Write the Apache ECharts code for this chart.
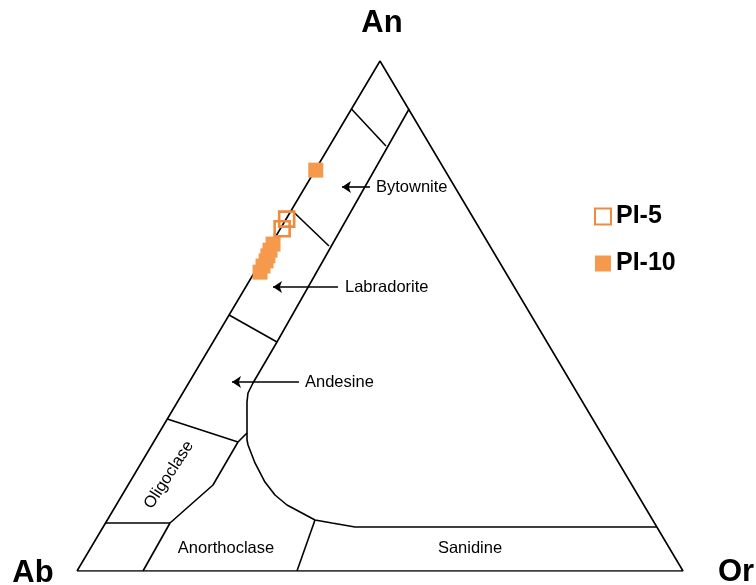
<!DOCTYPE html>
<html>
<head>
<meta charset="utf-8">
<script src="https://cdn.jsdelivr.net/npm/echarts@6/dist/echarts.min.js"></script>
<style>
html, body { margin: 0; padding: 0; background: #fff; }
#chart { width: 756px; height: 585px; }
</style>
</head>
<body>
<div id="chart"></div>
<script>
// all ternary points are [An, Or] in percent, Ab = 100 - An - Or
const cornerNames = ["An", "Ab", "Or"];
const fieldNames = ["Bytownite", "Labradorite", "Andesine", "Oligoclase", "Anorthoclase", "Sanidine"];
const seriesNames = ["PI-5", "PI-10"];

const outline = [[0, 0], [0, 100], [100, 0], [0, 0]];
// boundary of the plagioclase field, running down and round into the sanidine line
const plagioclaseEdge = [
    [90.59, 9.50], [44.90, 10.55], [36.86, 10.61], [34.90, 10.77], [33.14, 11.48],
    [25.69, 15.21], [24.71, 15.87], [21.18, 18.78], [17.45, 22.29], [14.90, 25.22],
    [12.94, 28.18], [11.37, 31.44], [10.00, 34.27], [9.41, 37.37], [8.63, 41.56], [8.63, 91.37]
];
const bytowniteTop = [[90.59, 0], [83.33, 9.32]];
const bytowniteLabradorite = [[70.78, 0], [63.73, 9.72]];
const labradoriteAndesine = [[50.20, 0], [44.90, 10.55]];
const andesineOligoclase = [[29.80, 0], [25.29, 13.92], [27.06, 14.52]];
const oligoclaseEdge = [[25.29, 13.92], [16.86, 14.01], [9.41, 10.64]];
const albiteLine = [[9.41, 0], [9.41, 10.64]];
const anorthoclaseLeft = [[9.41, 10.64], [0, 10.89]];
const anorthoclaseSanidine = [[10.00, 34.27], [0, 36.30]];

// arrows pointing into the fields: [start, end]
const arrowBytownite = [[75.29, 10.70], [75.29, 6.08]];
const arrowLabradorite = [[55.69, 15.23], [55.69, 4.50]];
const arrowAndesine = [[37.06, 18.10], [37.06, 7.05]];

// samples
const pi5 = [[69.0, 0.1], [67.1, 0.3]];
const pi10 = [
    [78.6, 0.1], [64.1, 0.3], [62.9, 0.4], [61.8, 0.6],
    [60.8, 0.8], [59.8, 0.8], [58.6, 0.9]
];

function toXY(p) {
    return [(p[1] + p[0] / 2) / 100, p[0] / 100];
}

const FONT = "Liberation Sans, Arial, sans-serif";
const ORANGE = "#F59A4C";
const LINE_W = 1.6;

function boundary(points) {
    return {
        type: "line",
        data: points.map(toXY),
        showSymbol: false,
        symbol: "none",
        silent: true,
        lineStyle: { color: "#000", width: LINE_W },
        z: 1
    };
}

function arrowLine(a) {
    return [{ coord: toXY(a[0]) }, { coord: toXY(a[1]) }];
}

const chart = echarts.init(document.getElementById("chart"));

const option = {
    animation: false,
    grid: { left: 77, right: 73, top: 61, bottom: 14 },
    xAxis: { type: "value", min: 0, max: 1, show: false },
    yAxis: { type: "value", min: 0, max: 1, show: false },
    legend: {
        data: seriesNames,
        orient: "vertical",
        left: 589,
        top: 199,
        itemWidth: 16,
        itemHeight: 16,
        itemGap: 22,
        selectedMode: false,
        textStyle: { fontFamily: FONT, fontSize: 25, fontWeight: "bold", color: "#000" }
    },
    series: [
        boundary(outline),
        boundary(plagioclaseEdge),
        boundary(bytowniteTop),
        boundary(bytowniteLabradorite),
        boundary(labradoriteAndesine),
        boundary(andesineOligoclase),
        boundary(oligoclaseEdge),
        boundary(albiteLine),
        boundary(anorthoclaseLeft),
        boundary(anorthoclaseSanidine),
        {
            type: "scatter",
            data: [],
            silent: true,
            markLine: {
                silent: true,
                symbol: ["none", "arrow"],
                symbolSize: 9,
                label: { show: false },
                lineStyle: { color: "#000", width: LINE_W, type: "solid" },
                itemStyle: { color: "#000" },
                data: [arrowLine(arrowBytownite), arrowLine(arrowLabradorite), arrowLine(arrowAndesine)]
            }
        },
        {
            name: "PI-10",
            type: "scatter",
            symbol: "rect",
            symbolSize: 15,
            itemStyle: { color: ORANGE, opacity: 1 },
            data: pi10.map(toXY),
            z: 3
        },
        {
            name: "PI-5",
            type: "scatter",
            symbol: "rect",
            symbolSize: 15,
            itemStyle: { color: "rgba(255,255,255,0)", borderColor: "#F08A3C", borderWidth: 2.6, opacity: 1 },
            data: pi5.map(toXY),
            z: 4
        }
    ],
    graphic: [
        { type: "text", x: 382, y: 23, style: { text: cornerNames[0], font: "bold 31px " + FONT, fill: "#000", align: "center", verticalAlign: "middle" } },
        { type: "text", x: 33, y: 573, style: { text: cornerNames[1], font: "bold 31px " + FONT, fill: "#000", align: "center", verticalAlign: "middle" } },
        { type: "text", x: 736, y: 572, style: { text: cornerNames[2], font: "bold 31px " + FONT, fill: "#000", align: "center", verticalAlign: "middle" } },
        { type: "text", x: 376, y: 187, style: { text: fieldNames[0], font: "16.5px " + FONT, fill: "#000", align: "left", verticalAlign: "middle" } },
        { type: "text", x: 345, y: 287, style: { text: fieldNames[1], font: "16.5px " + FONT, fill: "#000", align: "left", verticalAlign: "middle" } },
        { type: "text", x: 305, y: 382, style: { text: fieldNames[2], font: "16.5px " + FONT, fill: "#000", align: "left", verticalAlign: "middle" } },
        { type: "text", x: 169, y: 475, rotation: 57 * Math.PI / 180, style: { text: fieldNames[3], font: "16.5px " + FONT, fill: "#000", align: "center", verticalAlign: "middle" } },
        { type: "text", x: 226, y: 548, style: { text: fieldNames[4], font: "16.5px " + FONT, fill: "#000", align: "center", verticalAlign: "middle" } },
        { type: "text", x: 470, y: 548, style: { text: fieldNames[5], font: "16.5px " + FONT, fill: "#000", align: "center", verticalAlign: "middle" } }
    ]
};

chart.setOption(option);
</script>
</body>
</html>
